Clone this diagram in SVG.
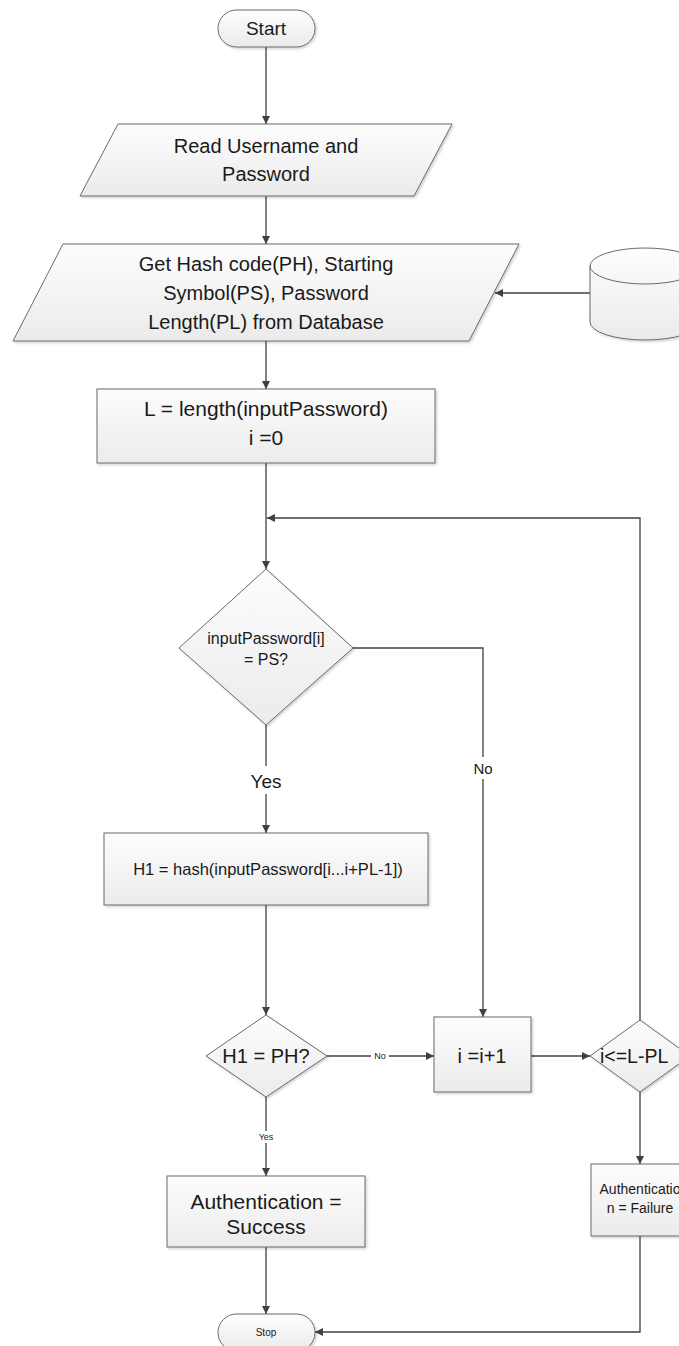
<svg xmlns="http://www.w3.org/2000/svg" width="679" height="1346" viewBox="0 0 679 1346">
<style>
  .shape { fill: url(#g); stroke: #6a6a6a; stroke-width: 1; filter: url(#sh); }
  .conn { fill: none; stroke: #404040; stroke-width: 1.3; }
  text { font-family: "Liberation Sans", Arial, sans-serif; fill: #1a1a1a; text-anchor: middle; }
  .lbl { fill: #ffffff; stroke: none; }
</style>
<defs>
  <linearGradient id="g" x1="0" y1="0" x2="0" y2="1">
    <stop offset="0" stop-color="#fdfdfd"/>
    <stop offset="1" stop-color="#ebebeb"/>
  </linearGradient>
  <filter id="sh" x="-5%" y="-5%" width="115%" height="120%">
    <feDropShadow dx="1.5" dy="1.5" stdDeviation="1" flood-color="#000" flood-opacity="0.18"/>
  </filter>
  <marker id="ah" viewBox="0 0 10 10" refX="10" refY="5" markerWidth="8" markerHeight="8" markerUnits="userSpaceOnUse" orient="auto">
    <path d="M0,0 L10,5 L0,10 Z" fill="#404040"/>
  </marker>
</defs>

<g id="connectors">
  <path class="conn" d="M266,47 V124" marker-end="url(#ah)"/>
  <path class="conn" d="M266,196 V244" marker-end="url(#ah)"/>
  <path class="conn" d="M590,293 H495" marker-end="url(#ah)"/>
  <path class="conn" d="M266,341 V389" marker-end="url(#ah)"/>
  <path class="conn" d="M266,463 V569" marker-end="url(#ah)"/>
  <path class="conn" d="M640,1020 V518 H267" marker-end="url(#ah)"/>
  <path class="conn" d="M266,725 V833" marker-end="url(#ah)"/>
  <path class="conn" d="M353,648 H483 V1017" marker-end="url(#ah)"/>
  <path class="conn" d="M266,905 V1015" marker-end="url(#ah)"/>
  <path class="conn" d="M327,1056 H434" marker-end="url(#ah)"/>
  <path class="conn" d="M266,1097 V1176" marker-end="url(#ah)"/>
  <path class="conn" d="M531,1056 H590" marker-end="url(#ah)"/>
  <path class="conn" d="M640,1092 V1164" marker-end="url(#ah)"/>
  <path class="conn" d="M266,1247 V1314" marker-end="url(#ah)"/>
  <path class="conn" d="M640,1236 V1332 H315" marker-end="url(#ah)"/>
  <!-- labels -->
  <rect class="lbl" x="246" y="766" width="40" height="28"/>
  <text x="266" y="788" font-size="19">Yes</text>
  <rect class="lbl" x="471" y="757" width="24" height="22"/>
  <text x="483" y="774" font-size="15">No</text>
  <rect class="lbl" x="371" y="1050" width="18" height="12"/>
  <text x="380" y="1059" font-size="9">No</text>
  <rect class="lbl" x="256" y="1131" width="20" height="12"/>
  <text x="266" y="1140" font-size="9">Yes</text>
</g>

<g id="start">
  <rect class="shape" x="218" y="10" width="97" height="37" rx="18.5"/>
  <text x="266" y="35" font-size="19">Start</text>
</g>

<g id="read">
  <polygon class="shape" points="118,124 452,124 414,196 80,196"/>
  <text x="266" y="153" font-size="20">Read Username and</text>
  <text x="266" y="181" font-size="20">Password</text>
</g>

<g id="gethash">
  <polygon class="shape" points="63,244 519,244 469,341 13,341"/>
  <text x="266" y="271" font-size="20">Get Hash code(PH), Starting</text>
  <text x="266" y="300" font-size="20">Symbol(PS), Password</text>
  <text x="266" y="329" font-size="20">Length(PL) from Database</text>
</g>

<g id="database">
  <path class="shape" d="M590,266 V322 A55,18 0 0 0 700,322 V266 A55,18 0 0 0 590,266 Z"/>
  <path d="M590,266 A55,18 0 0 0 700,266" fill="none" stroke="#6a6a6a" stroke-width="1"/>
</g>

<g id="init">
  <rect class="shape" x="97" y="389" width="338" height="74"/>
  <text x="266" y="416" font-size="21">L = length(inputPassword)</text>
  <text x="266" y="445" font-size="21">i =0</text>
</g>

<g id="check-ps">
  <polygon class="shape" points="266,569 353,648 266,725 179,648"/>
  <text x="266" y="644" font-size="16">inputPassword[i]</text>
  <text x="266" y="665" font-size="16">= PS?</text>
</g>

<g id="hash">
  <rect class="shape" x="104" y="833" width="324" height="72"/>
  <text x="268" y="875" font-size="16.5">H1 = hash(inputPassword[i...i+PL-1])</text>
</g>

<g id="check-ph">
  <polygon class="shape" points="266,1015 327,1056 266,1097 206,1056"/>
  <text x="266" y="1063" font-size="20">H1 = PH?</text>
</g>

<g id="increment">
  <rect class="shape" x="434" y="1017" width="97" height="75"/>
  <text x="482" y="1063" font-size="20">i =i+1</text>
</g>

<g id="check-len">
  <polygon class="shape" points="640,1020 690,1056 640,1092 590,1056"/>
  <text x="600" y="1063" font-size="19.5" style="text-anchor:start">i&lt;=L-PL</text>
</g>

<g id="success">
  <rect class="shape" x="167" y="1176" width="198" height="71"/>
  <text x="266" y="1209" font-size="21">Authentication =</text>
  <text x="266" y="1234" font-size="21">Success</text>
</g>

<g id="failure">
  <rect class="shape" x="591" y="1164" width="99" height="72"/>
  <text x="640" y="1194" font-size="14">Authenticatio</text>
  <text x="640" y="1213" font-size="14">n = Failure</text>
</g>

<g id="stop">
  <rect class="shape" x="218" y="1314" width="97" height="37" rx="18.5"/>
  <text x="266" y="1336" font-size="10">Stop</text>
</g>
</svg>
